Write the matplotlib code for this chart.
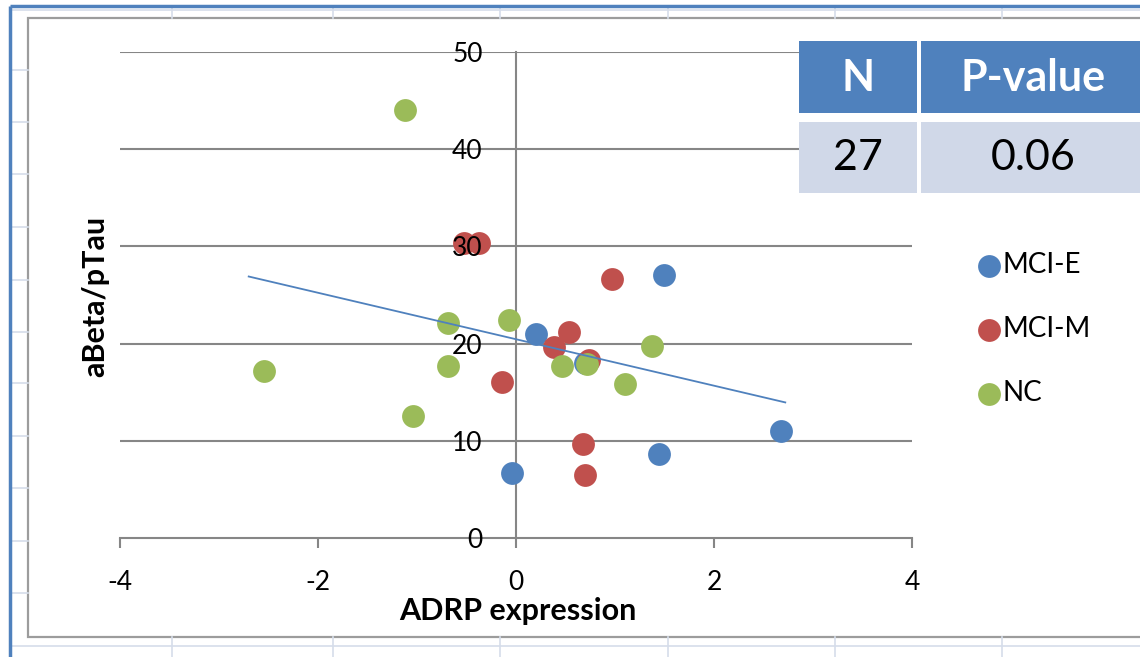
#!/usr/bin/env python

import numpy as np
import matplotlib
matplotlib.use('Agg')
from matplotlib import pyplot as plt
from matplotlib.patches import Rectangle

plt.rcParams['font.family'] = ['Lato', 'DejaVu Sans']

# values (ADRP expression, aBeta/pTau)
mci_e_x = [1.49, 0.20, 0.70, 2.68, 1.44, -0.04]
mci_e_y = [27.1, 21.0, 18.0, 11.0, 8.6, 6.7]
mci_m_x = [0.97, 0.54, 0.38, 0.74, -0.14, 0.68, 0.70, -0.53, -0.37]
mci_m_y = [26.6, 21.2, 19.7, 18.3, 16.1, 9.7, 6.5, 30.4, 30.4]
nc_x = [-1.12, -2.55, -0.69, -0.07, 1.37, 0.72, 0.46, -0.69, 1.10, -1.04]
nc_y = [44.0, 17.2, 22.1, 22.4, 19.8, 17.9, 17.7, 17.7, 15.8, 12.6]
groups = ['MCI-E', 'MCI-M', 'NC']
colors = ['#4F81BD', '#C0504D', '#9BBB59']

# linear trend line as drawn (slope, intercept, x range)
trend_slope = -2.39
trend_intercept = 20.45
trend_range = [-2.70, 2.72]

x_ticks = [-4, -2, 0, 2, 4]
y_ticks = [0, 10, 20, 30, 40, 50]

table_header = ['N', 'P-value']
table_row = ['27', '0.06']

W, H = 1140, 657
fig = plt.figure(figsize=(W / 100, H / 100), dpi=100)

# spreadsheet background (pixel coordinates)
bg = fig.add_axes([0, 0, 1, 1], zorder=0)
bg.set_xlim(0, W)
bg.set_ylim(H, 0)
bg.axis('off')
cell_col = '#D5DDEA'
for xv in [172, 333, 500, 668, 835, 1002]:
    bg.plot([xv, xv], [6, 18], color=cell_col, lw=1.2)
    bg.plot([xv, xv], [637, H], color=cell_col, lw=1.2)
for yv in [70, 122, 174, 227, 280, 332, 383, 436, 488, 541, 593]:
    bg.plot([10, 28], [yv, yv], color=cell_col, lw=1.2)
bg.plot([10, W], [646, 646], color=cell_col, lw=1.2)
bg.plot([10, W], [10, 10], color=cell_col, lw=1.2)
bg.plot([10, W], [6, 6], color='#4F81BD', lw=2.5, solid_capstyle='butt')
bg.plot([10, 10], [6, H], color='#4F81BD', lw=2.5, solid_capstyle='butt')
bg.add_patch(Rectangle((28, 18), W, 619, facecolor='white', edgecolor='#9C9C9C', lw=1.6))

bg.text(95, 296, 'aBeta/pTau', rotation=90, ha='center', va='center',
        fontsize=22, fontweight='bold')
bg.text(518, 611, 'ADRP expression', ha='center', va='center',
        fontsize=22, fontweight='bold')

# main scatter axes
ax = fig.add_axes([120 / W, 1 - 538 / H, 792 / W, 486 / H], zorder=1)
ax.patch.set_visible(False)
axis_col = '#868686'

for yv in y_ticks[1:]:
    ax.axhline(yv, color=axis_col, lw=1.5, zorder=1)

ax.scatter(mci_e_x, mci_e_y, s=270, color=colors[0], label=groups[0], zorder=3, linewidths=0)
ax.scatter(mci_m_x, mci_m_y, s=270, color=colors[1], label=groups[1], zorder=3, linewidths=0)
ax.scatter(nc_x, nc_y, s=270, color=colors[2], label=groups[2], zorder=3, linewidths=0)

tx = np.array(trend_range)
ax.plot(tx, trend_slope * tx + trend_intercept, color='#4F81BD', lw=1.3, zorder=4)

ax.set_xlim(-4, 4)
ax.set_ylim(0, 50)
ax.set_xticks(x_ticks)
ax.set_yticks(y_ticks)
ax.set_xticklabels([str(v) for v in x_ticks])
ax.set_yticklabels([str(v) for v in y_ticks])
for s in ['top', 'right']:
    ax.spines[s].set_visible(False)
ax.spines['left'].set_position(('data', 0))
ax.spines['bottom'].set_position(('data', 0))
for s in ['left', 'bottom']:
    ax.spines[s].set_color(axis_col)
    ax.spines[s].set_linewidth(1.5)
    ax.spines[s].set_zorder(2)
ax.yaxis.set_zorder(5)
ax.tick_params(axis='y', length=0, pad=24, labelsize=19)
ax.tick_params(axis='x', direction='out', length=7, width=1.5, color=axis_col,
               pad=16, labelsize=19)

ax.legend(loc='upper left', bbox_to_anchor=(976 / W, 1 - 252 / H),
          bbox_transform=fig.transFigure, frameon=False, fontsize=20,
          labelspacing=1.37, handletextpad=0.05, handlelength=0.9,
          borderpad=0, borderaxespad=0, scatterpoints=1)

# N / P-value table on top
top = fig.add_axes([0, 0, 1, 1], zorder=2)
top.set_xlim(0, W)
top.set_ylim(H, 0)
top.axis('off')
col_x = [799, 921]
col_w = [118, 224]
for i in range(2):
    top.add_patch(Rectangle((col_x[i], 41), col_w[i], 72, facecolor='#4F81BD', lw=0))
    top.add_patch(Rectangle((col_x[i], 122), col_w[i], 71, facecolor='#D0D8E8', lw=0))
    cx = col_x[i] + col_w[i] / 2
    top.text(cx, 78, table_header[i], ha='center', va='center', color='white',
             fontsize=31, fontweight='bold')
    top.text(cx, 158, table_row[i], ha='center', va='center', color='black',
             fontsize=31)

fig.savefig('out.png', dpi=100)
